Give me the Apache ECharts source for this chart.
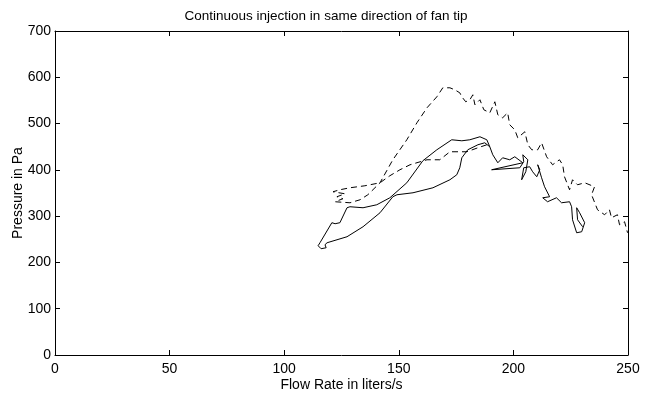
<!DOCTYPE html>
<html><head><meta charset="utf-8">
<script src="https://cdn.jsdelivr.net/npm/echarts@6/dist/echarts.min.js"></script>
<style>html,body{margin:0;padding:0;background:#fff}#c{width:652px;height:395px}</style>
</head><body><div id="c"></div>
<script>
const titleText = "Continuous injection in same direction of fan tip";
const xName = "Flow Rate in liters/s";
const yName = "Pressure in Pa";
const xTicks = [0, 50, 100, 150, 200, 250];
const yTicks = [0, 100, 200, 300, 400, 500, 600, 700];

const solidSeries = [
[189.7,449.9],[188.4,465.0],[185.4,471.5],[181.0,465.0],[177.5,462.8],[173.1,465.0],[166.6,443.4],[160.5,419.7],
[153.5,372.1],[146.1,339.7],[140.4,324.6],[134.4,318.1],[128.7,320.3],[127.4,318.1],[124.3,285.8],[122.2,283.6],
[120.8,285.8],[115.6,242.5],[114.8,236.1],[116.1,229.6],[118.3,231.7],[117.8,238.2],[118.7,242.5],
[127.4,255.5],[134.4,277.1],[141.8,307.3],[147.4,341.9],[149.2,346.2],[156.2,350.5],[164.9,361.3],[172.3,378.6],
[175.3,389.4],[176.6,404.5],[177.5,426.1],[180.1,443.4],[184.5,454.2],[187.5,458.5],[189.7,449.9],
[191.0,432.6],[193.2,415.3],[195.3,426.1],[198.4,421.8],[200.6,428.3],[204.1,415.3],[190.5,400.2],[202.8,404.5],
[204.5,417.5],[204.1,432.6],[206.3,421.8],[205.4,395.9],[203.6,378.6],[204.5,404.5],[207.1,406.7],[208.4,395.9],
[210.2,385.1],[211.5,400.2],[210.6,411.0],[212.3,382.9],[213.6,363.5],[215.8,341.9],[212.8,339.7],[214.9,331.1],
[218.8,339.7],[221.0,328.9],[224.5,331.1],[225.4,320.3],[225.8,292.2],[227.6,264.1],[229.8,266.3],[231.1,285.8],
[228.9,307.3],[227.6,318.1],[228.0,292.2],[230.2,277.1]
];

const dashedSeries = [
[188.4,454.2],[184.5,447.7],[179.7,439.1],[172.3,439.1],[167.9,421.8],[162.3,421.8],[154.9,411.0],[150.5,400.2],
[146.1,387.3],[141.8,372.1],[135.2,365.6],[128.7,361.3],[124.3,357.0],[121.3,352.7],[126.5,348.3],[123.0,341.9],
[125.6,337.6],[122.2,331.1],[128.7,328.9],[133.1,335.4],[136.5,346.2],[141.8,372.1],[147.4,421.8],[153.5,465.0],
[157.9,501.7],[162.3,534.1],[166.6,557.9],[169.2,577.3],[172.3,577.3],[174.4,573.0],[176.6,566.5],[177.5,557.9],
[179.2,547.1],[181.0,551.4],[182.3,562.2],[183.2,540.6],[185.4,551.4],[187.1,529.8],[189.7,523.3],[191.9,547.1],
[193.2,519.0],[195.3,512.5],[197.5,523.3],[198.4,497.4],[200.6,486.6],[201.9,469.3],[205.0,482.3],[206.3,454.2],
[208.0,443.4],[210.6,443.4],[212.3,458.5],[214.5,428.3],[217.1,411.0],[220.1,421.8],[221.5,411.0],[222.3,385.1],
[224.5,357.0],[225.8,378.6],[228.0,367.8],[231.1,372.1],[235.4,363.5],[234.1,346.2],[236.7,313.8],[239.8,303.0],
[241.9,313.8],[242.8,296.5],[245.4,303.0],[246.3,281.4],[248.5,287.9],[249.8,264.1]
];

const font = "Liberation Sans, Arial, sans-serif";
const fs = 14;
const chart = echarts.init(document.getElementById('c'), null, {renderer:'canvas'});
const axisCommon = {
  axisLine:{show:true,onZero:false,lineStyle:{color:'#000',width:1}},
  axisTick:{show:true,inside:true,length:5,lineStyle:{color:'#000'}},
  splitLine:{show:false}
};
chart.setOption({
  animation:false,
  backgroundColor:'#fff',
  title:{text:titleText,left:'center',top:4,textStyle:{fontFamily:font,fontSize:13.5,fontWeight:'normal',color:'#000'}},
  grid:{left:55,right:24,top:31,bottom:40,containLabel:false,outerBoundsMode:'none'},
  xAxis:[
    Object.assign({type:'value',min:xTicks[0],max:xTicks[xTicks.length-1],interval:50,position:'bottom',
      name:xName,nameLocation:'middle',nameGap:23,nameMoveOverlap:false,nameTextStyle:{fontFamily:font,fontSize:fs,color:'#000'},
      axisLabel:{fontFamily:font,fontSize:fs,color:'#000',margin:7}},axisCommon),
    Object.assign({type:'value',min:xTicks[0],max:xTicks[xTicks.length-1],interval:50,position:'top',
      axisLabel:{show:false}},axisCommon)
  ],
  yAxis:[
    Object.assign({type:'value',min:yTicks[0],max:yTicks[yTicks.length-1],interval:100,position:'left',
      name:yName,nameLocation:'middle',nameGap:30,nameRotate:90,nameMoveOverlap:false,nameTextStyle:{fontFamily:font,fontSize:fs,color:'#000'},
      axisLabel:{fontFamily:font,fontSize:fs,color:'#000',margin:4}},axisCommon),
    Object.assign({type:'value',min:yTicks[0],max:yTicks[yTicks.length-1],interval:100,position:'right',
      axisLabel:{show:false}},axisCommon)
  ],
  series:[
    {type:'line',data:solidSeries,showSymbol:false,smooth:false,lineStyle:{color:'#000',width:1,type:'solid'}},
    {type:'line',data:dashedSeries,showSymbol:false,smooth:false,lineStyle:{color:'#000',width:1,type:[6,4]}}
  ]
});
</script></body></html>
